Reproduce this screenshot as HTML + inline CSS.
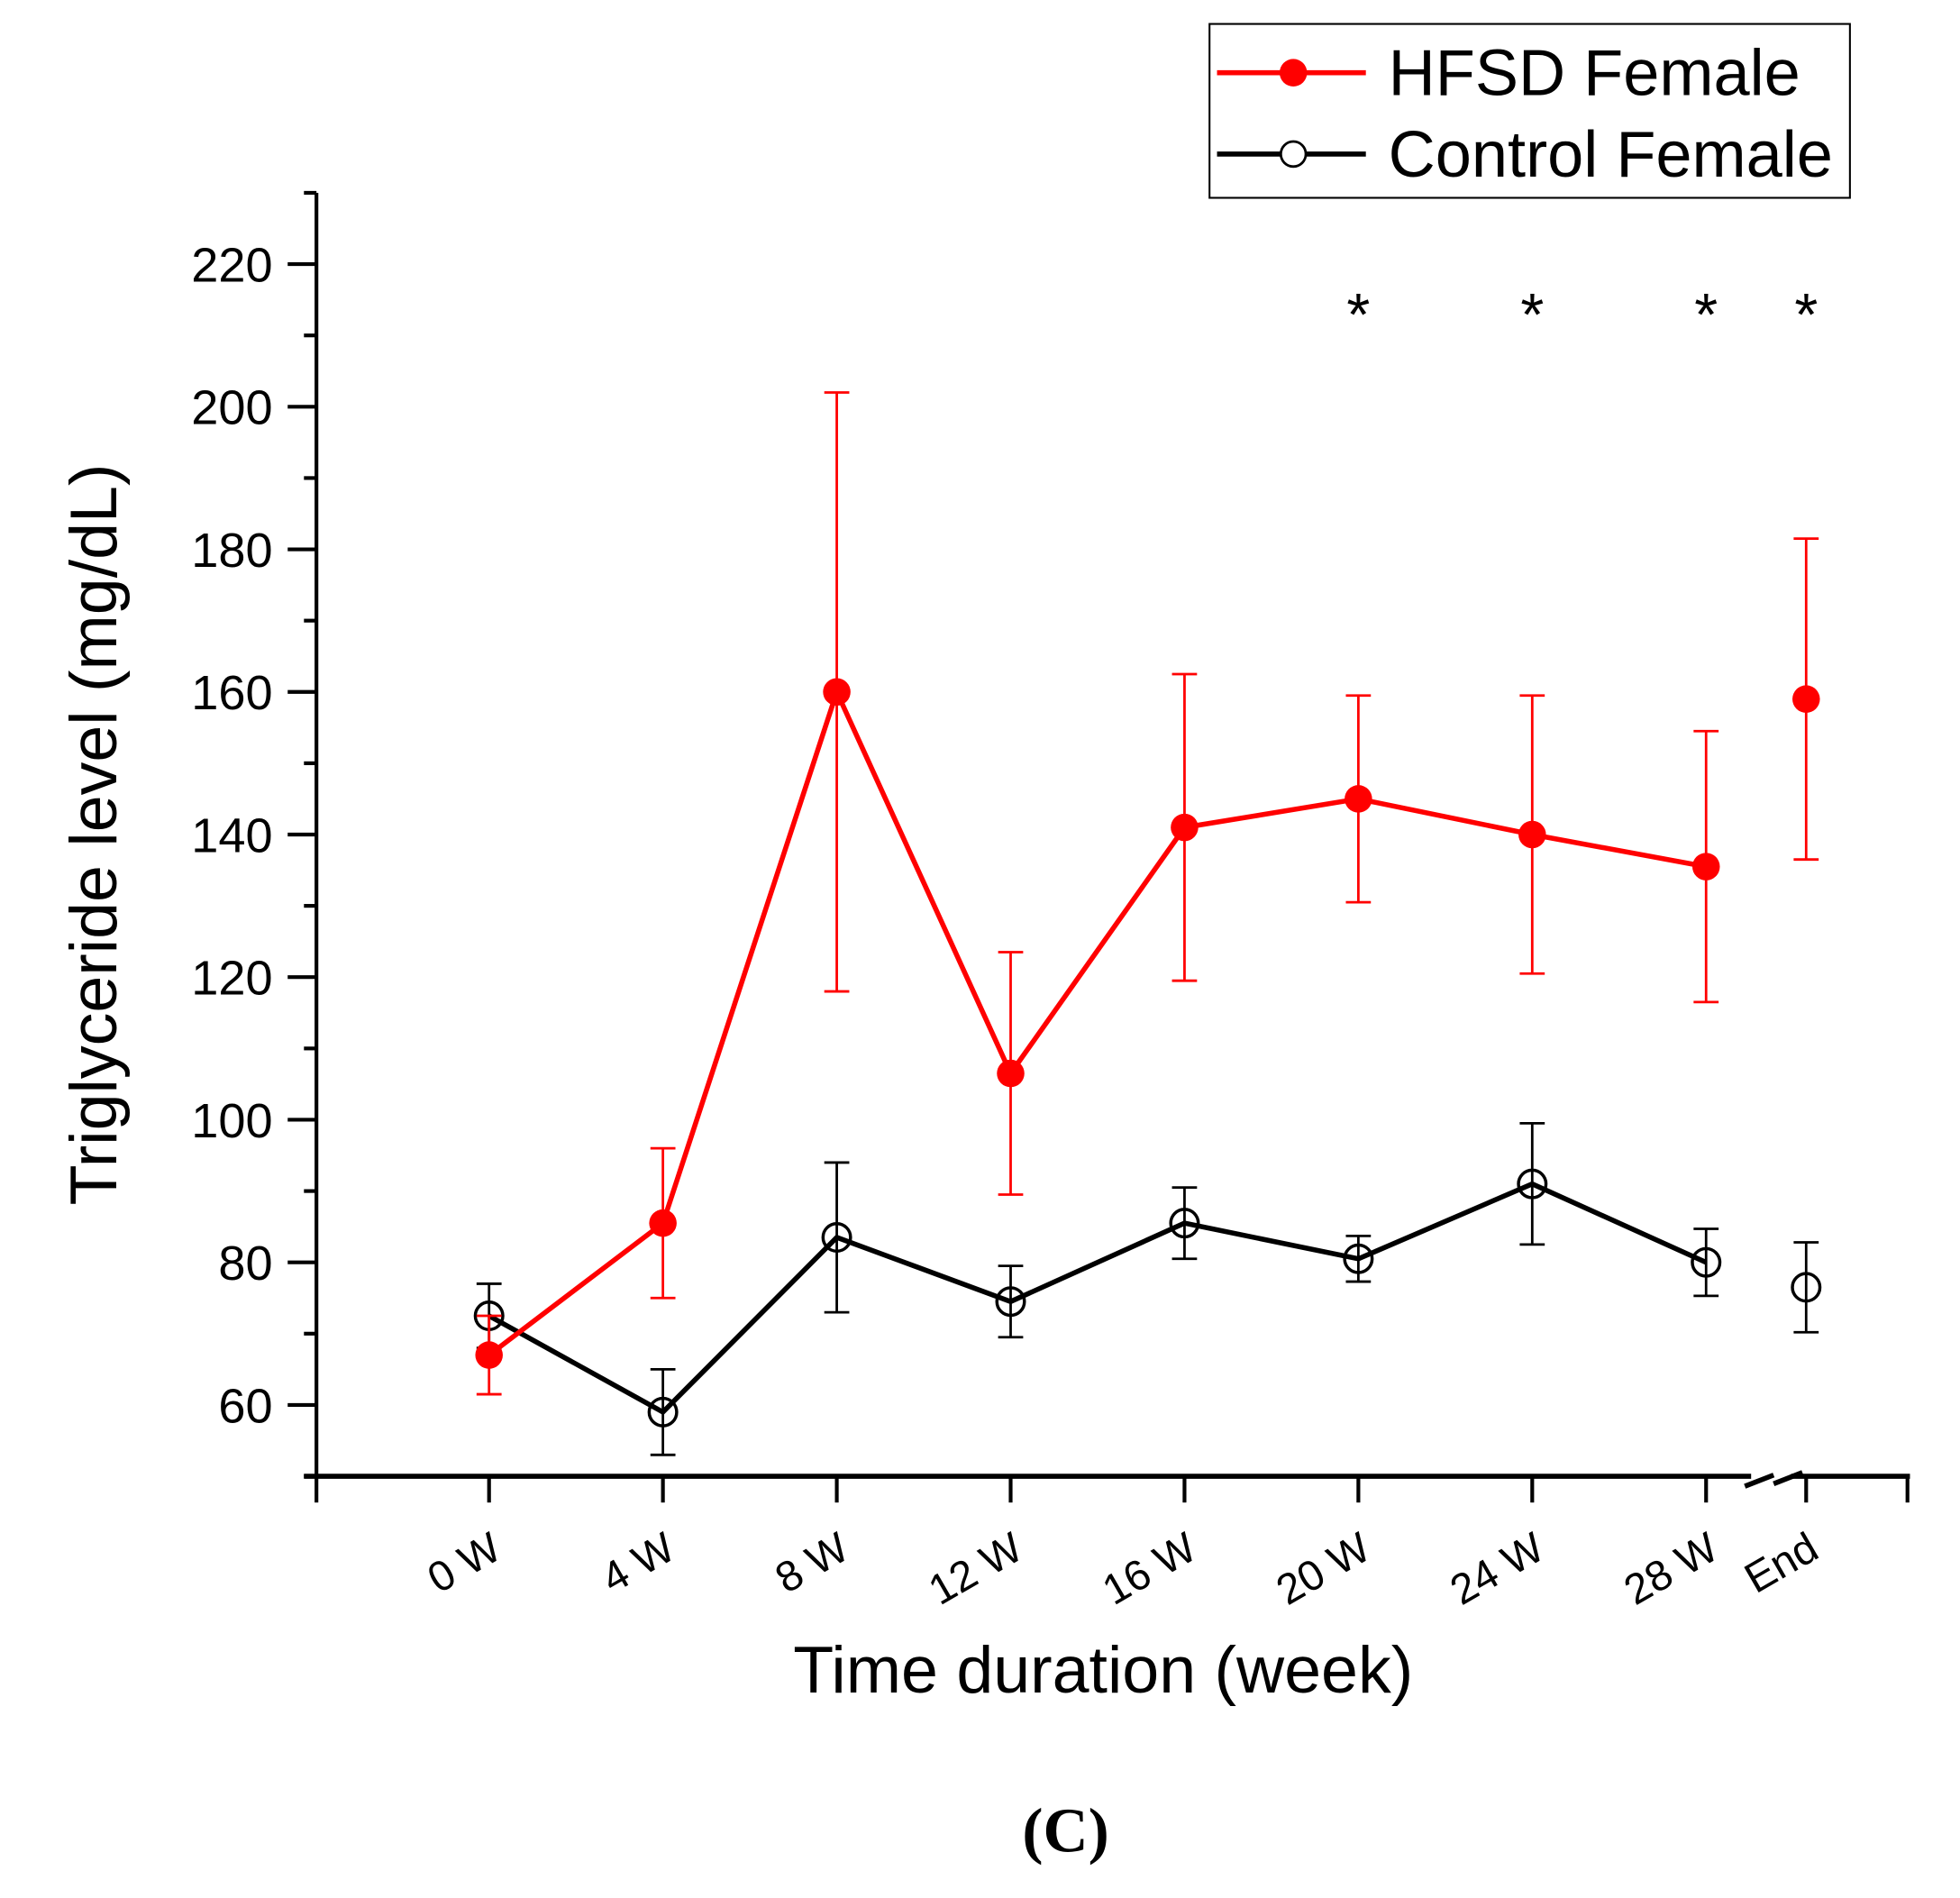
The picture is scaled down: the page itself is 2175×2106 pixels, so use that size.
<!DOCTYPE html>
<html><head><meta charset="utf-8"><style>
html,body{margin:0;padding:0;background:#fff;}
svg{display:block;}
text{font-family:"Liberation Sans",sans-serif;}
</style></head><body>
<svg id="chart" width="2175" height="2106" viewBox="0 0 1567 1517" xmlns="http://www.w3.org/2000/svg">
<g id="axes"></g>
<g id="series"></g>
<g>
<rect x="967" y="19" width="512" height="139" fill="#fff" stroke="#000" stroke-width="1.5"/>
<line x1="973" y1="58" x2="1092" y2="58" stroke="#f00" stroke-width="4"/>
<circle cx="1034" cy="58" r="11" fill="#f00"/>
<text x="1110" y="76" font-size="52">HFSD Female</text>
<line x1="973" y1="123" x2="1092" y2="123" stroke="#000" stroke-width="4"/>
<circle cx="1034" cy="123" r="10" fill="#fff" stroke="#000" stroke-width="2"/>
<text x="1110" y="141" font-size="52">Control Female</text>
</g>
<text transform="translate(93,667) rotate(-90)" text-anchor="middle" font-size="53">Triglyceride level (mg/dL)</text>
<text x="882" y="1353" text-anchor="middle" font-size="53">Time duration (week)</text>
<text x="852" y="1480" text-anchor="middle" font-size="50" font-weight="bold" style="font-family:'Liberation Serif',serif">(C)</text>
</svg>
<script>
const categories = ["0 W","4 W","8 W","12 W","16 W","20 W","24 W","28 W","End"];
const hfsdMean = [67, 85.5, 160, 106.5, 141, 145, 140, 135.5, 159];
const hfsdErr = [5.5, 10.5, 42, 17, 21.5, 14.5, 19.5, 19, 22.5];
const ctrlMean = [72.5, 59, 83.5, 74.5, 85.5, 80.5, 91, 80, 76.5];
const ctrlErr = [4.5, 6, 10.5, 5, 5, 3.2, 8.5, 4.7, 6.3];
const significant = [false,false,false,false,false,true,true,true,true];
const yTicks = [60,80,100,120,140,160,180,200,220];

const NS="http://www.w3.org/2000/svg";
const xPos = [391,530,669,808,947,1086,1225,1364,1444];
function xs(i){return xPos[i];}
function ys(v){return 325-(v-200)*5.7;}
function mk(tag,attrs,parent){const e=document.createElementNS(NS,tag);for(const k in attrs)e.setAttribute(k,attrs[k]);parent.appendChild(e);return e;}
const ax=document.getElementById('axes'), se=document.getElementById('series');
let yl=mk('line',{x1:253,y1:154,x2:253,y2:1181,stroke:'#000','stroke-width':3},ax);


for(let v=50;v<=230;v+=10){
  const major=yTicks.includes(v);
  const t=mk('line',{x1:major?230:243,y1:ys(v),x2:253,y2:ys(v),stroke:'#000','stroke-width':3},ax);
  
  
}
yTicks.forEach(v=>{
  const t=mk('text',{x:218,y:ys(v)+14,'text-anchor':'end','font-size':39},ax);
  t.textContent=v;
  
  
});
let xl1=mk('line',{x1:243,y1:1180,x2:1400,y2:1180,stroke:'#000','stroke-width':4},ax);


let xl2=mk('line',{x1:1432,y1:1180,x2:1527,y2:1180,stroke:'#000','stroke-width':4},ax);


[[1395,1188,1418,1179],[1418,1186,1441,1177]].forEach(s=>{
  const b=mk('line',{x1:s[0],y1:s[1],x2:s[2],y2:s[3],stroke:'#000','stroke-width':4},ax);
  
  
});
[253,1525].concat(xPos).forEach(x=>{
  const t=mk('line',{x1:x,y1:1180,x2:x,y2:1201,stroke:'#000','stroke-width':3},ax);
  
  
});
categories.forEach((c,i)=>{
  const t=mk('text',{x:0,y:0,'text-anchor':'end','font-size':34,transform:`translate(${xs(i)+12},${1244}) rotate(-30)`},ax);
  t.textContent=c;
  
  
});
function drawSeries(mean,err,color,filled,name){
  const g=mk('g',{},se);
  
  
  mean.forEach((m,i)=>{
    const x=xs(i);
    const e=mk('path',{d:`M${x},${ys(m-err[i])}V${ys(m+err[i])}M${x-10},${ys(m-err[i])}H${x+10}M${x-10},${ys(m+err[i])}H${x+10}`,stroke:color,'stroke-width':2,fill:'none'},g);
    
    
  });
  const pts=mean.slice(0,8).map((m,i)=>xs(i)+','+ys(m)).join(' ');
  const pl=mk('polyline',{points:pts,fill:'none',stroke:color,'stroke-width':4},g);
  
  
  mean.forEach((m,i)=>{
    const c=mk('circle',{cx:xs(i),cy:ys(m),r:11,fill:filled?color:'none',stroke:color,'stroke-width':filled?0:2.5},g);
    
    
  });
}
drawSeries(ctrlMean,ctrlErr,'#000',false,'control-series');
drawSeries(hfsdMean,hfsdErr,'#f00',true,'hfsd-series');
significant.forEach((s,i)=>{
  if(!s)return;
  const t=mk('text',{x:xs(i),y:268,'text-anchor':'middle','font-size':48},ax);
  t.textContent='*';
  
  
});
</script>
</body></html>
